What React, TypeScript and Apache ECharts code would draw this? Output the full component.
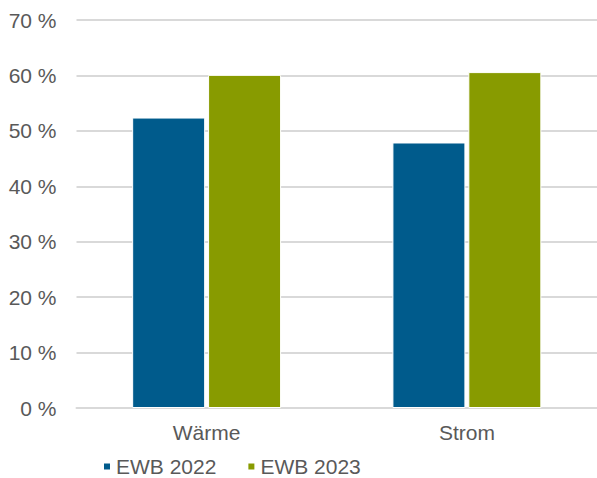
import React, { useEffect, useRef } from "react";
import * as echarts from "echarts";

const categories = ["Wärme", "Strom"];
const seriesNames = ["EWB 2022", "EWB 2023"];
const ewb2022 = [52.4, 47.9];
const ewb2023 = [60.1, 60.6];
const colors = ["#005b8c", "#889b00"];

export default function App() {
  const ref = useRef<HTMLDivElement>(null);
  useEffect(() => {
    if (!ref.current) return;
    const chart = echarts.init(ref.current, null, { renderer: "svg" });
    const font = "'Liberation Sans', Arial, sans-serif";
    chart.setOption({
      animation: false,
      backgroundColor: "#ffffff",
      textStyle: { fontFamily: font },
      grid: { left: 76.5, top: 20, width: 525, height: 388, containLabel: false },
      legend: {
        left: 102,
        top: 456,
        padding: 0,
        icon: "rect",
        itemWidth: 8,
        itemHeight: 8,
        itemGap: 30,
        textStyle: { color: "#595959", fontSize: 21, fontFamily: font },
        data: seriesNames,
      },
      xAxis: {
        type: "category",
        data: categories,
        axisLine: { show: true, lineStyle: { color: "#d9d9d9", width: 2 } },
        axisTick: { show: false },
        axisLabel: { color: "#595959", fontSize: 21, fontFamily: font, margin: 14 },
      },
      yAxis: {
        type: "value",
        min: 0,
        max: 70,
        interval: 10,
        axisLine: { show: false },
        axisTick: { show: false },
        splitLine: { lineStyle: { color: "#d9d9d9", width: 2 } },
        axisLabel: {
          color: "#595959",
          fontSize: 21,
          fontFamily: font,
          margin: 20,
          formatter: "{value} %",
        },
      },
      series: [
        {
          name: seriesNames[0],
          type: "bar",
          data: ewb2022,
          barWidth: 73,
          barGap: "4%",
          itemStyle: { color: colors[0], borderColor: "#ffffff", borderWidth: 1 },
        },
        {
          name: seriesNames[1],
          type: "bar",
          data: ewb2023,
          barWidth: 73,
          barGap: "4%",
          itemStyle: { color: colors[1], borderColor: "#ffffff", borderWidth: 1 },
        },
      ],
    });
    return () => chart.dispose();
  }, []);
  return (
    <div
      ref={ref}
      style={{ position: "absolute", left: 0, top: 0, width: 597, height: 478 }}
    />
  );
}
